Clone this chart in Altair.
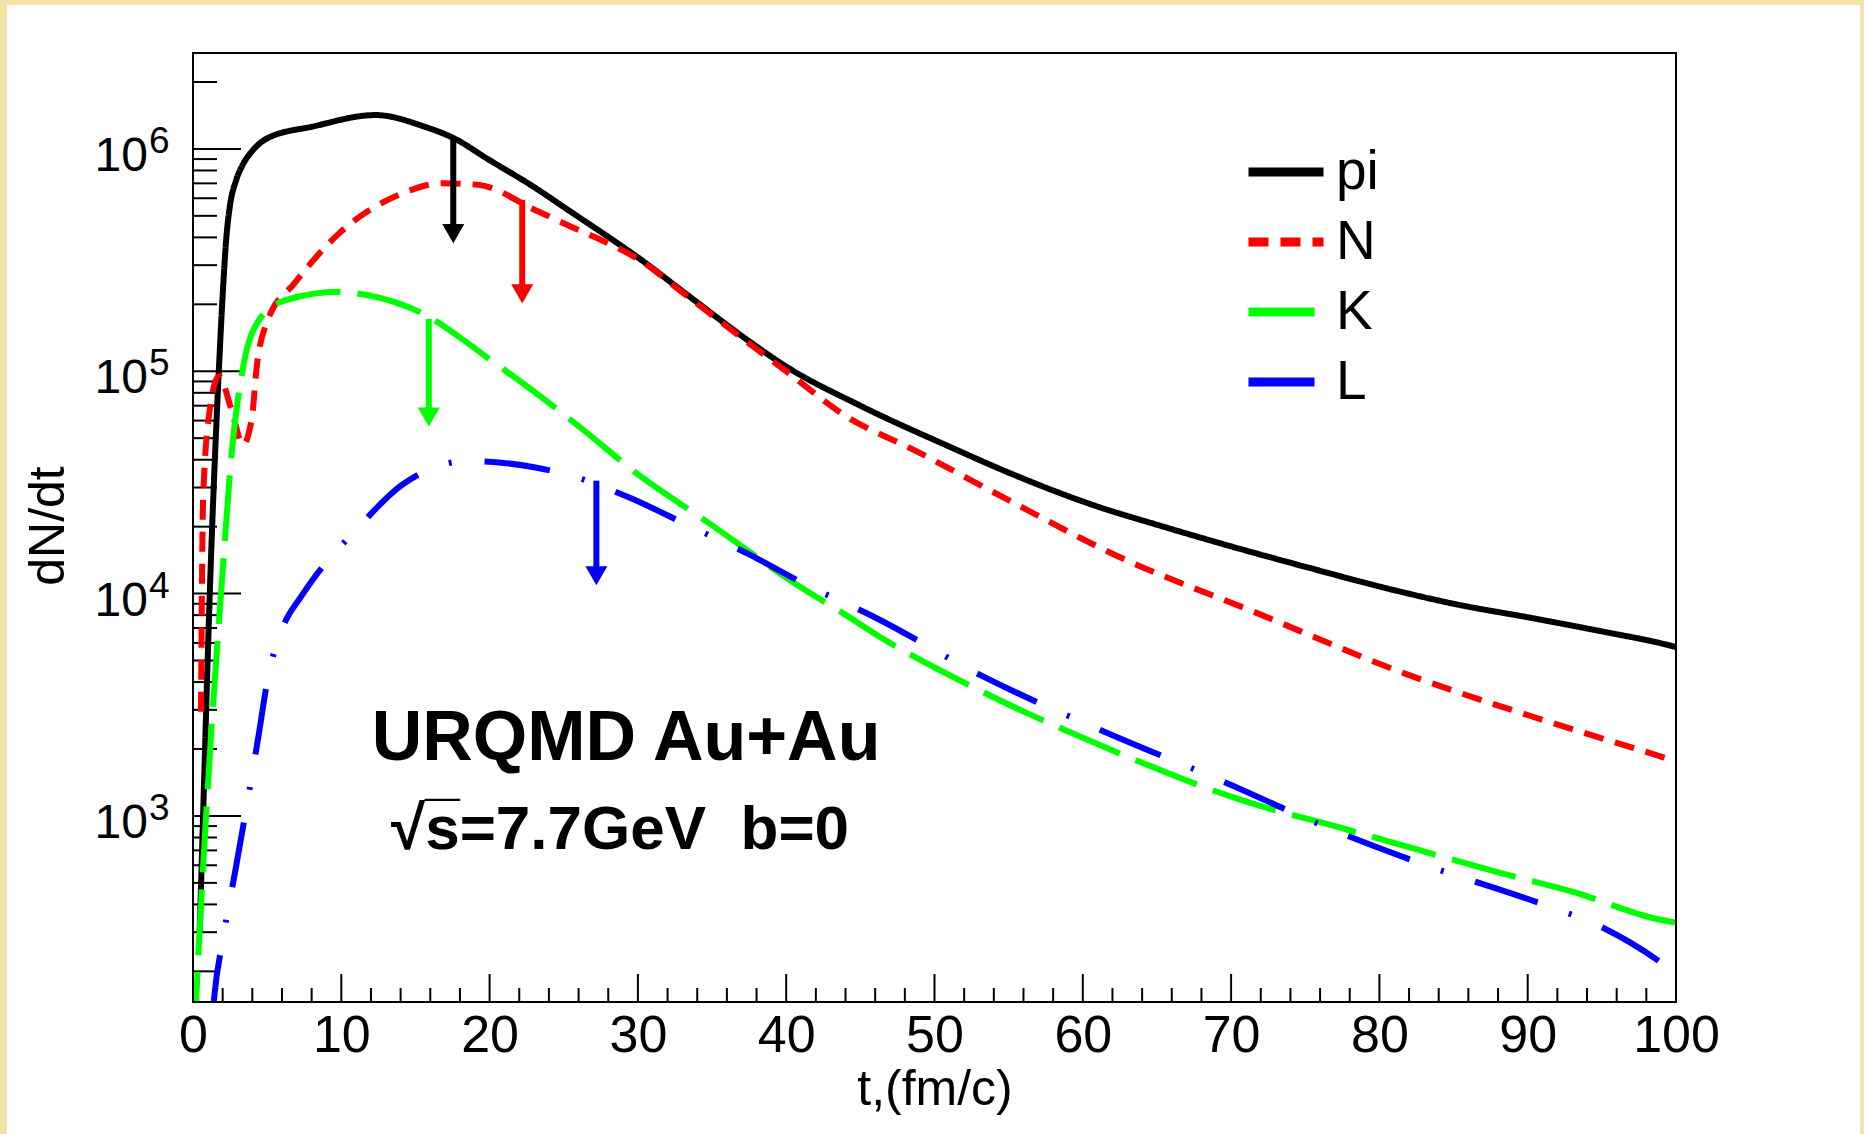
import altair as alt
import pandas as pd

FONT = "Liberation Sans"

species = ["pi", "N", "K", "L"]
colors = ["#000000", "#ff0000", "#00ff00", "#0000ff"]
dashes = [[1, 0], [20, 12], [66, 17], [66, 33, 3, 33]]

pi_t = [0.45, 0.68, 1.13, 1.74, 2.0, 2.25, 2.5, 2.9, 3.4, 4.0, 5.05, 8.06, 12.3, 15.6, 17.55,
        20.0, 22.9, 25.5, 28.05, 30.0, 33.2, 37.4, 40.0, 45.0, 51.2, 55.0, 61.1, 65.0,
        69.45, 75.0, 80.9, 85.0, 90.3, 95.0, 99.2, 100.0]
pi_v = [300, 1000, 1.0e4, 1.0e5, 2.2e5, 4.0e5, 5.6e5, 7.2e5, 8.6e5, 9.8e5, 1.12e6, 1.26e6,
        1.42e6, 1.26e6, 1.12e6, 8.9e5, 6.8e5, 5.2e5, 4.0e5, 3.25e5, 2.24e5, 1.38e5, 1.05e5,
        7.0e4, 4.52e4, 3.5e4, 2.45e4, 2.04e4, 1.67e4, 1.32e4, 1.04e4, 9.0e3, 7.76e3, 6.76e3,
        5.93e3, 5.75e3]

n_t = [0.54, 0.68, 1.13, 1.74, 2.6, 3.37, 3.98, 4.3, 5.05, 6.85, 9.87, 14.1, 16.8, 19.2,
       23.1, 25.5, 28.0, 30.0, 33.2, 37.4, 40.0, 44.0, 48.6, 55.0, 62.1, 71.5, 82.0, 90.3,
       99.2, 100.0]
n_v = [2940, 2.63e4, 6.7e4, 9.5e4, 6.7e4, 4.67e4, 6.25e4, 1.05e5, 1.7e5, 2.49e5, 4.18e5,
       6.3e5, 7.0e5, 6.9e5, 5.3e5, 4.47e5, 3.76e5, 3.2e5, 2.21e5, 1.35e5, 1.0e5, 6.3e4,
       4.43e4, 2.63e4, 1.5e4, 8.3e3, 4.3e3, 2.8e3, 1.83e3, 1.76e3]

k_t = [0.1, 0.23, 1.13, 1.89, 2.63, 3.39, 4.45, 6.25, 9.87, 11.0, 12.6, 14.3, 15.9, 17.8,
       20.1, 23.0, 26.1, 30.1, 34.5, 41.25, 43.85, 46.3, 53.3, 62.1, 70.5, 77.8, 83.0, 88.2,
       93.0, 98.7, 100.0]
k_v = [100, 155, 1860, 1.0e4, 4.43e4, 1.05e5, 1.7e5, 2.09e5, 2.28e5, 2.24e5, 2.14e5, 1.97e5,
       1.76e5, 1.45e5, 1.12e5, 8.1e4, 5.6e4, 3.4e4, 2.14e4, 1.04e4, 8.15e3, 6.4e3, 3.6e3,
       1.96e3, 1.19e3, 869, 692, 553, 457, 344, 331]

l_t = [1.3, 1.44, 2.0, 2.9, 4.44, 5.0, 5.65, 6.4, 7.2, 8.06, 11.07, 14.08, 18.6, 20.8, 23.1,
       25.1, 29.5, 33.3, 37.6, 41.4, 45.9, 53.3, 61.1, 69.45, 76.8, 83.0, 90.9, 95.0, 99.2, 100.0]
l_v = [120, 155, 275, 590, 2.34e3, 4.0e3, 6.0e3, 7.9e3, 9.5e3, 1.15e4, 1.96e4, 3.08e4,
       3.95e4, 3.88e4, 3.69e4, 3.45e4, 2.69e4, 2.04e4, 1.49e4, 1.09e4, 7.87e3, 4.23e3,
       2.45e3, 1.43e3, 869, 605, 403, 316, 214, 195]

arrow_species = ["pi", "N", "K", "L"]
arrow_t = [17.55, 22.2, 15.9, 27.2]
arrow_top = [1.12e6, 5.9e5, 1.72e5, 3.22e4]
arrow_tip = [3.77e5, 2.02e5, 5.64e4, 1.09e4]

x_major = [0, 10, 20, 30, 40, 50, 60, 70, 80, 90, 100]
x_minor = [2, 4, 6, 8, 12, 14, 16, 18, 22, 24, 26, 28, 32, 34, 36, 38, 42, 44, 46, 48,
           52, 54, 56, 58, 62, 64, 66, 68, 72, 74, 76, 78, 82, 84, 86, 88, 92, 94, 96, 98]
y_major = [1e3, 1e4, 1e5, 1e6]
y_exp = ["3", "4", "5", "6"]
y_minor = [200, 300, 400, 500, 600, 700, 800, 900,
           2e3, 3e3, 4e3, 5e3, 6e3, 7e3, 8e3, 9e3,
           2e4, 3e4, 4e4, 5e4, 6e4, 7e4, 8e4, 9e4,
           2e5, 3e5, 4e5, 5e5, 6e5, 7e5, 8e5, 9e5, 2e6]

ann_t = [29.2, 28.8]
ann_v = [1790, 711]
ann_text = ["URQMD Au+Au", "\u221as\u0305=7.7GeV\u00a0\u00a0b=0"]

rows = []
for name, ts, vs in [("pi", pi_t, pi_v), ("N", n_t, n_v), ("K", k_t, k_v), ("L", l_t, l_v)]:
    for t, v in zip(ts, vs):
        rows.append({"species": name, "t": t, "dNdt": v})
df = pd.DataFrame(rows)

W, H = 1483, 949
xs = alt.Scale(domain=[0, 100], nice=False, zero=False)
ys = alt.Scale(type="log", domain=[145.6, 2.70e6], nice=False)
cscale = alt.Scale(domain=species, range=colors)
dscale = alt.Scale(domain=species, range=dashes)

xaxis = alt.Axis(values=x_major, format="d", labelFontSize=52, labelFont=FONT, labelColor="black",
                 labelBaseline="alphabetic", labelPadding=49, labelFlush=False, labelOverlap=False,
                 ticks=False, tickSize=0, domain=False, grid=False, zindex=2,
                 title="t,(fm/c)", titleFont=FONT, titleFontSize=50, titleFontWeight="normal",
                 titleColor="black", titleBaseline="alphabetic", titleY=102)

X = alt.X("t:Q", scale=xs, axis=xaxis)

leg = alt.Legend(title=None, orient="none", legendX=1051, legendY=77, symbolType="stroke",
                 symbolSize=5625, symbolStrokeWidth=9, labelFontSize=55, labelFont=FONT,
                 labelColor="black", labelOffset=8, rowPadding=0)

one = pd.DataFrame({"z": [0]})
bg = alt.Chart(one).mark_rect(color="white", clip=False).encode(
    x=alt.value(-186), x2=alt.value(W + 184), y=alt.value(-48), y2=alt.value(H + 140))
frame = alt.Chart(one).mark_rect(fillOpacity=0, stroke="black", strokeWidth=2, clip=False).encode(
    x=alt.value(0), x2=alt.value(W), y=alt.value(0), y2=alt.value(H))

lines = alt.Chart(df).mark_line(strokeWidth=6, interpolate="monotone", clip=True).encode(
    x=X,
    y=alt.Y("dNdt:Q", scale=ys, axis=None),
    color=alt.Color("species:N", scale=cscale, legend=leg, sort=species),
    strokeDash=alt.StrokeDash("species:N", scale=dscale, legend=leg, sort=species),
)

adf = pd.DataFrame({"species": arrow_species, "t": arrow_t, "top": arrow_top, "tip": arrow_tip})
shafts = alt.Chart(adf).mark_rule(strokeWidth=6, y2Offset=-10).encode(
    x=X, y=alt.Y("top:Q", scale=ys, axis=None), y2="tip:Q",
    stroke=alt.Stroke("species:N", scale=cscale, legend=None))
heads = alt.Chart(adf).mark_point(shape="triangle-down", filled=True, size=484, opacity=1,
                                  yOffset=-9.5).encode(
    x=X, y=alt.Y("tip:Q", scale=ys, axis=None),
    fill=alt.Fill("species:N", scale=cscale, legend=None))

xmaj = alt.Chart(pd.DataFrame({"t": x_major})).mark_rule(color="black", strokeWidth=2).encode(
    x=X, y=alt.value(H), y2=alt.value(H - 28))
xmin = alt.Chart(pd.DataFrame({"t": x_minor})).mark_rule(color="black", strokeWidth=2).encode(
    x=X, y=alt.value(H), y2=alt.value(H - 14))
ymaj = alt.Chart(pd.DataFrame({"v": y_major})).mark_rule(color="black", strokeWidth=2).encode(
    y=alt.Y("v:Q", scale=ys, axis=None), x=alt.value(0), x2=alt.value(48))
ymin = alt.Chart(pd.DataFrame({"v": y_minor})).mark_rule(color="black", strokeWidth=2).encode(
    y=alt.Y("v:Q", scale=ys, axis=None), x=alt.value(0), x2=alt.value(24))

ylab_df = pd.DataFrame({"v": y_major, "base": ["10"] * 4, "exp": y_exp})
ybase = alt.Chart(ylab_df).mark_text(align="right", baseline="alphabetic", fontSize=48, font=FONT,
                                     color="black", dy=22).encode(
    x=alt.value(-45), y=alt.Y("v:Q", scale=ys, axis=None), text="base:N")
yexp = alt.Chart(ylab_df).mark_text(align="left", baseline="alphabetic", fontSize=37, font=FONT,
                                    color="black", dy=4).encode(
    x=alt.value(-44), y=alt.Y("v:Q", scale=ys, axis=None), text="exp:N")
ytitle = alt.Chart(pd.DataFrame({"s": ["dN/dt"]})).mark_text(
    angle=270, align="center", baseline="middle", fontSize=50, font=FONT, color="black").encode(
    x=alt.value(-144), y=alt.value(473), text="s:N")

ann_df = pd.DataFrame({"t": ann_t, "v": ann_v, "s": ann_text})
ann1 = alt.Chart(ann_df.iloc[[0]]).mark_text(align="center", baseline="alphabetic", fontSize=70,
                                            fontWeight="bold", font=FONT, color="black").encode(
    x=X, y=alt.Y("v:Q", scale=ys, axis=None), text="s:N")
ann2 = alt.Chart(ann_df.iloc[[1]]).mark_text(align="center", baseline="alphabetic", fontSize=62,
                                            fontWeight="bold", font=FONT, color="black").encode(
    x=X, y=alt.Y("v:Q", scale=ys, axis=None), text="s:N")

chart = alt.layer(bg, xmin, xmaj, ymin, ymaj, lines, shafts, heads, ybase, yexp, ytitle,
                  ann1, ann2, frame).properties(
    width=W, height=H,
    autosize=alt.AutoSizeParams(type="none"),
    padding={"left": 193, "top": 53, "right": 188, "bottom": 132},
    background="#f3e3a6",
).configure_view(stroke=None, fill="white")

chart.save("out.html", embed_options={"renderer": "svg", "actions": False})
